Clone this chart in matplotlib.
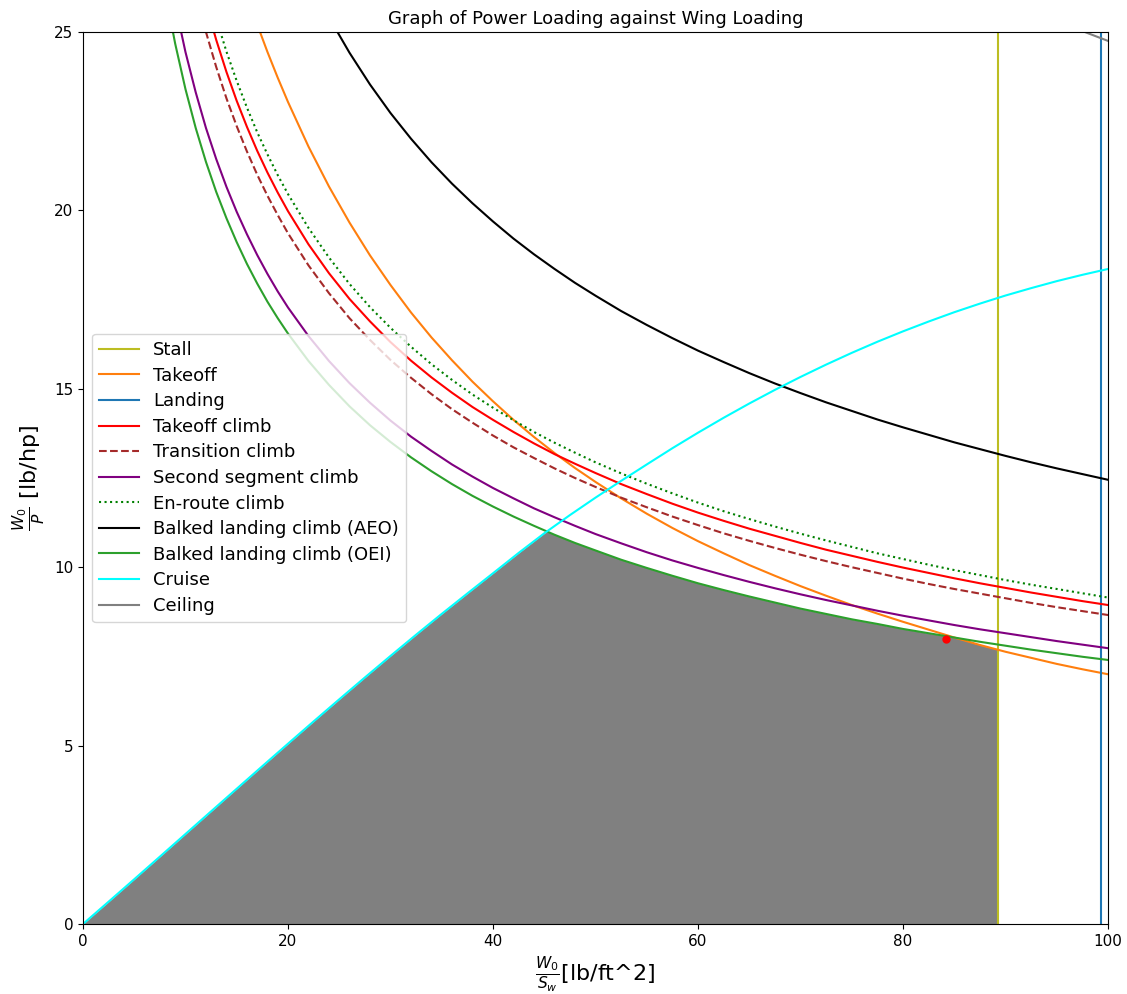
import numpy as np
import matplotlib
matplotlib.use("Agg")
import matplotlib.pyplot as plt

# Wing loading grid (lb/ft^2) for the constraint curves
ws = [8, 9, 10, 11, 12, 13, 14, 15, 16, 17, 18, 19, 20,
      22, 24, 26, 28, 30, 32, 34, 36, 38, 40, 42, 44, 46, 48, 50,
      52.5, 55, 57.5, 60, 62.5, 65, 67.5, 70, 72.5, 75, 77.5, 80,
      82.5, 85, 87.5, 90, 92.5, 95, 97.5, 100]

takeoff = [35.12, 33.65, 32.30, 31.05, 29.90, 28.83, 27.83, 26.90, 26.03, 25.21, 24.44, 23.72, 23.04,
           21.79, 20.67, 19.66, 18.74, 17.91, 17.14, 16.44, 15.80, 15.20, 14.65, 14.13, 13.65, 13.20, 12.78, 12.39,
           11.93, 11.50, 11.10, 10.73, 10.39, 10.06, 9.76, 9.47, 9.20, 8.94, 8.70, 8.47,
           8.25, 8.03, 7.82, 7.63, 7.46, 7.29, 7.14, 7.00]
takeoff_climb = [31.59, 29.78, 28.25, 26.94, 25.79, 24.78, 23.88, 23.07, 22.34, 21.67, 21.06, 20.50, 19.98,
                 19.05, 18.24, 17.52, 16.89, 16.31, 15.79, 15.32, 14.89, 14.49, 14.13, 13.79, 13.47, 13.17, 12.90, 12.64,
                 12.33, 12.05, 11.78, 11.53, 11.30, 11.08, 10.88, 10.68, 10.49, 10.32, 10.15, 9.99,
                 9.84, 9.69, 9.55, 9.42, 9.29, 9.17, 9.05, 8.94]
transition_climb = [30.62, 28.87, 27.39, 26.11, 25.00, 24.02, 23.14, 22.36, 21.65, 21.00, 20.41, 19.87, 19.36,
                    18.46, 17.68, 16.98, 16.37, 15.81, 15.31, 14.85, 14.43, 14.05, 13.69, 13.36, 13.06, 12.77, 12.50, 12.25,
                    11.95, 11.68, 11.42, 11.18, 10.95, 10.74, 10.54, 10.35, 10.17, 10.00, 9.84, 9.68,
                    9.53, 9.39, 9.26, 9.13, 9.00, 8.88, 8.77, 8.66]
second_segment = [27.33, 25.77, 24.44, 23.31, 22.31, 21.44, 20.66, 19.96, 19.33, 18.75, 18.22, 17.73, 17.28,
                  16.48, 15.78, 15.16, 14.61, 14.11, 13.66, 13.26, 12.88, 12.54, 12.22, 11.93, 11.65, 11.40, 11.16, 10.93,
                  10.67, 10.42, 10.19, 9.98, 9.78, 9.59, 9.41, 9.24, 9.08, 8.93, 8.78, 8.64,
                  8.51, 8.38, 8.26, 8.15, 8.04, 7.93, 7.83, 7.73]
en_route = [32.35, 30.50, 28.93, 27.59, 26.41, 25.38, 24.45, 23.63, 22.88, 22.19, 21.57, 20.99, 20.46,
            19.51, 18.68, 17.94, 17.29, 16.71, 16.18, 15.69, 15.25, 14.84, 14.47, 14.12, 13.79, 13.49, 13.21, 12.94,
            12.63, 12.34, 12.07, 11.81, 11.57, 11.35, 11.14, 10.94, 10.75, 10.57, 10.39, 10.23,
            10.07, 9.92, 9.78, 9.64, 9.51, 9.39, 9.27, 9.15]
balked_aeo = [44.02, 41.50, 39.37, 37.54, 35.94, 34.53, 33.27, 32.15, 31.13, 30.20, 29.34, 28.56, 27.84,
              26.54, 25.41, 24.42, 23.53, 22.73, 22.01, 21.35, 20.75, 20.20, 19.69, 19.21, 18.77, 18.36, 17.97, 17.61,
              17.18, 16.79, 16.42, 16.07, 15.75, 15.44, 15.15, 14.88, 14.62, 14.38, 14.14, 13.92,
              13.71, 13.50, 13.31, 13.12, 12.94, 12.77, 12.61, 12.45]
balked_oei = [26.16, 24.67, 23.40, 22.31, 21.36, 20.52, 19.78, 19.11, 18.50, 17.95, 17.44, 16.98, 16.55,
              15.78, 15.11, 14.51, 13.98, 13.51, 13.08, 12.69, 12.33, 12.00, 11.70, 11.42, 11.16, 10.91, 10.68, 10.47,
              10.21, 9.98, 9.76, 9.55, 9.36, 9.18, 9.01, 8.84, 8.69, 8.54, 8.41, 8.27,
              8.15, 8.03, 7.91, 7.80, 7.69, 7.59, 7.49, 7.40]

cruise_ws = [0, 2.5, 5, 7.5, 10, 12.5, 15, 17.5, 20, 22.5, 25, 27.5, 30, 32.5, 35, 37.5, 40,
             42.5, 45, 47.5, 50, 52.5, 55, 57.5, 60, 62.5, 65, 67.5, 70, 72.5, 75, 77.5, 80,
             82.5, 85, 87.5, 90, 92.5, 95, 97.5, 100]
cruise = [0, 0.625, 1.254, 1.887, 2.522, 3.157, 3.791, 4.424, 5.053, 5.678, 6.297, 6.909, 7.513,
          8.108, 8.692, 9.264, 9.83, 10.40, 10.95, 11.46, 11.95, 12.42, 12.88, 13.335, 13.77, 14.188,
          14.588, 14.97, 15.333, 15.679, 16.008, 16.319, 16.611, 16.886, 17.147, 17.388, 17.615,
          17.822, 18.018, 18.195, 18.359]

ceiling_ws = [96, 98, 100]
ceiling = [25.2, 24.97, 24.75]

stall_ws = 89.3
landing_ws = 99.3

design_ws = [84.2]
design_wp = [8.0]

fig = plt.figure(figsize=(11.27, 9.94), dpi=100)
ax = fig.add_axes([0.0736, 0.0704, 0.9096, 0.8974])

ax.axvline(stall_ws, color='tab:olive', lw=1.5, label='Stall')
ax.plot(ws, takeoff, color='tab:orange', lw=1.5, label='Takeoff')
ax.axvline(landing_ws, color='tab:blue', lw=1.5, label='Landing')
ax.plot(ws, takeoff_climb, color='red', lw=1.5, label='Takeoff climb')
ax.plot(ws, transition_climb, color='brown', lw=1.5, ls='--', label='Transition climb')
ax.plot(ws, second_segment, color='purple', lw=1.5, label='Second segment climb')
ax.plot(ws, en_route, color='green', lw=1.5, ls=':', label='En-route climb')
ax.plot(ws, balked_aeo, color='black', lw=1.5, label='Balked landing climb (AEO)')
ax.plot(ws, balked_oei, color='tab:green', lw=1.5, label='Balked landing climb (OEI)')
ax.plot(cruise_ws, cruise, color='cyan', lw=1.5, label='Cruise')
ax.plot(ceiling_ws, ceiling, color='grey', lw=1.5, label='Ceiling')

# feasible region (below all constraints, left of stall)
xf = np.linspace(0, stall_ws, 2000)
curves = [takeoff, takeoff_climb, transition_climb, second_segment, en_route,
          balked_aeo, balked_oei]
ymin = np.interp(xf, cruise_ws, cruise)
for c in curves:
    ymin = np.minimum(ymin, np.interp(xf, ws, c, left=np.inf))
ax.fill_between(xf, 0, ymin, color='grey', lw=0)

ax.plot(design_ws, design_wp, 'o', color='red', ms=5)

ax.set_xlim(0, 100)
ax.set_ylim(0, 25)
ax.set_title('Graph of Power Loading against Wing Loading', fontsize=13)
ax.set_xlabel(r'$\frac{W_0}{S_w}$[lb/ft^2]', fontsize=16)
ax.set_ylabel(r'$\frac{W_0}{P}$ [lb/hp]', fontsize=16)
ax.tick_params(labelsize=11)
ax.legend(loc='center left', fontsize=13, labelspacing=0.42, handlelength=2.2)

fig.savefig('out.png', dpi=100)
